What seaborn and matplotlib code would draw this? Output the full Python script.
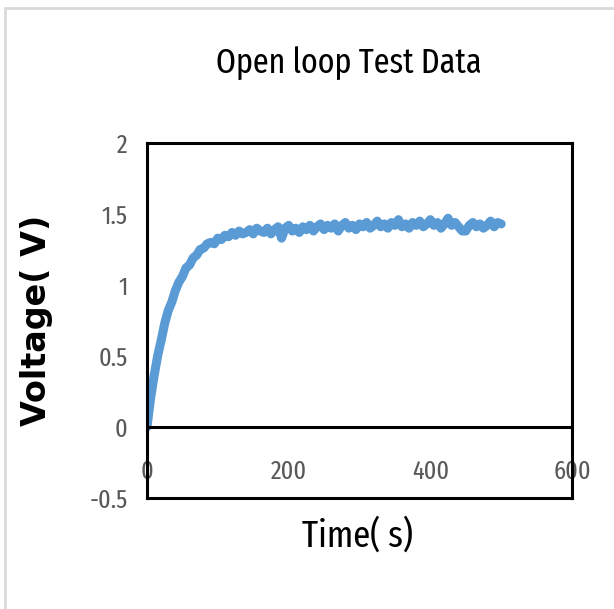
import numpy as np
import pandas as pd
import matplotlib
matplotlib.use("Agg")
import matplotlib.pyplot as plt
from matplotlib.lines import Line2D
import seaborn as sns

# ---- data ----
time_s = list(range(0, 505, 5))
voltage_v = [
    0.00, 0.20, 0.36, 0.50, 0.61, 0.73, 0.82, 0.88, 0.96, 1.02,
    1.06, 1.12, 1.14, 1.19, 1.21, 1.25, 1.26, 1.29, 1.30, 1.29,
    1.33, 1.32, 1.35, 1.34, 1.37, 1.35, 1.38, 1.36, 1.37, 1.39,
    1.36, 1.40, 1.38, 1.37, 1.40, 1.36, 1.39, 1.41, 1.33, 1.40,
    1.42, 1.38, 1.40, 1.37, 1.41, 1.39, 1.42, 1.38, 1.41, 1.43,
    1.39, 1.42, 1.40, 1.43, 1.38, 1.42, 1.44, 1.40, 1.42, 1.39,
    1.43, 1.41, 1.44, 1.40, 1.42, 1.45, 1.41, 1.43, 1.40, 1.44,
    1.42, 1.46, 1.41, 1.43, 1.40, 1.44, 1.42, 1.45, 1.41, 1.43,
    1.46, 1.42, 1.44, 1.40, 1.43, 1.47, 1.42, 1.44, 1.41, 1.38,
    1.38, 1.42, 1.44, 1.41, 1.43, 1.40, 1.42, 1.45, 1.41, 1.44,
    1.43,
]
x_ticks = [0, 200, 400, 600]
y_ticks = [-0.5, 0, 0.5, 1, 1.5, 2]
y_tick_labels = ["-0.5", "0", "0.5", "1", "1.5", "2"]

title_text = "Open loop Test Data"
x_label = "Time( s)"
y_label = "Voltage( V)"

df = pd.DataFrame({"t": time_s, "v": voltage_v})

sns.set_style("white")
FONT = ["Fira Sans Extra Condensed", "DejaVu Sans"]
plt.rcParams["font.family"] = FONT

fig = plt.figure(figsize=(6.14, 6.09), dpi=100)
ax = fig.add_axes([147 / 614, 1 - 498 / 609, (572 - 147) / 614, (498 - 143) / 609])

sns.lineplot(data=df, x="t", y="v", ax=ax, color="#5B9BD5", linewidth=6.5,
             solid_joinstyle="round", solid_capstyle="round")

ax.axhline(0, color="black", linewidth=2.2, zorder=3)

ax.set_xlim(0, 600)
ax.set_ylim(-0.5, 2)
ax.set_xticks(x_ticks)
ax.set_xticklabels([str(v) for v in x_ticks])
ax.set_yticks(y_ticks)
ax.set_yticklabels(y_tick_labels)
ax.tick_params(axis="x", length=0, pad=-28, labelsize=19, labelcolor="#595959")
ax.tick_params(axis="y", length=0, pad=14, labelsize=19, labelcolor="#595959")

for s in ax.spines.values():
    s.set_visible(True)
    s.set_color("black")
    s.set_linewidth(2.2)

ax.set_xlabel("")
ax.set_ylabel("")
fig.text(357 / 614, 1 - 547 / 609, x_label, ha="center", va="baseline",
         fontsize=27, color="black")
fig.text(37 / 614, 1 - 320 / 609, y_label, ha="center", va="center",
         rotation=90, fontsize=24, fontweight="bold", color="black",
         family=["DejaVu Sans"])
fig.text(349 / 614, 1 - 73 / 609, title_text, ha="center", va="baseline",
         fontsize=25, color="black")

# outer page frame
fig.add_artist(Line2D([5 / 614, 5 / 614], [0, 1 - 8 / 609], transform=fig.transFigure,
                      color="#d9d9d9", linewidth=2))
fig.add_artist(Line2D([5 / 614, 1], [1 - 8 / 609, 1 - 8 / 609], transform=fig.transFigure,
                      color="#d9d9d9", linewidth=2))

fig.savefig("out.png", dpi=100)
